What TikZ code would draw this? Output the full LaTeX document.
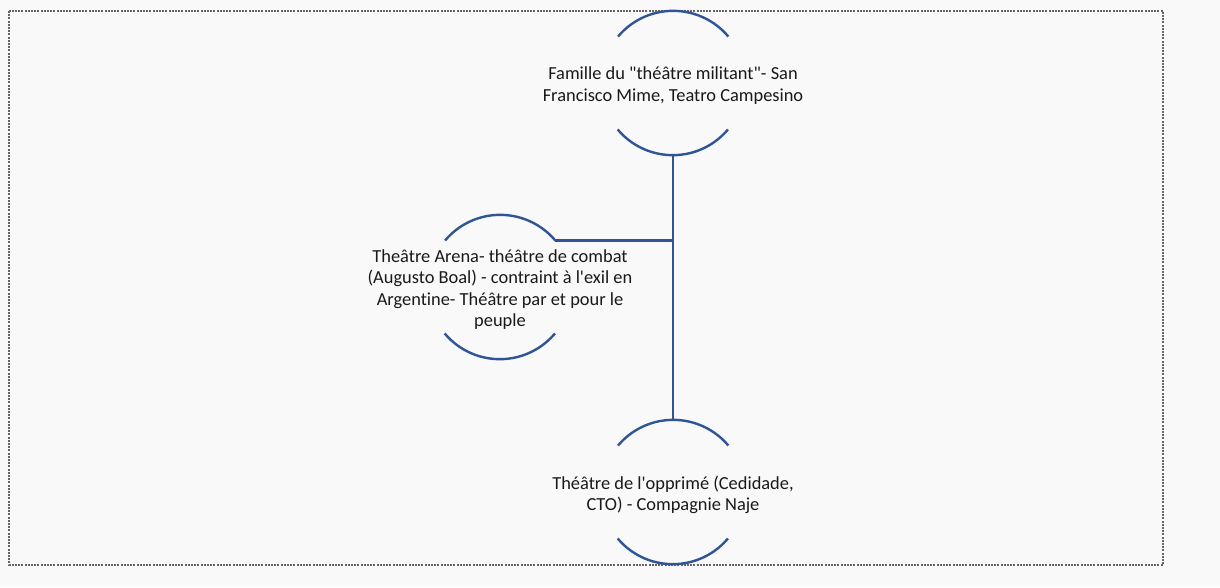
\documentclass[tikz,border=0pt]{standalone}
\usepackage{fontspec}
\setmainfont{Carlito}[Ligatures=NoCommon]
\definecolor{arcblue}{RGB}{47,85,151}
\definecolor{bggray}{RGB}{249,249,249}
\definecolor{framegray}{RGB}{100,100,100}
\tikzset{
  item/.style={circle, minimum size=108pt, inner sep=0pt},
  itemtext/.style={align=center, text=black!90, yshift=-2pt, font=\fontsize{13.8}{16.2}\selectfont},
  halfarc/.style={draw=arcblue, line width=1.8pt},
  link/.style={draw=arcblue, line width=1.8pt},
}
\begin{document}
\begin{tikzpicture}[x=0.75pt, y=0.75pt]
        % Background and frame
        \fill[bggray] (0,0) rectangle (1220,-587);
        \useasboundingbox (0,0) rectangle (1220,-587);
        \draw[framegray, line width=1.2pt, dash pattern=on 1.5pt off 0.9pt] (9,-11) rectangle (1163,-565);

        % Items
        \node[item, label={[itemtext]center:{Famille du \textquotedbl théâtre militant\textquotedbl- San\\Francisco Mime, Teatro Campesino}}] (militant) at (673,-83) {};
        \node[item, label={[itemtext]center:{Theâtre Arena- théâtre de combat\\(Augusto Boal) - contraint à l\textquotesingle exil en\\Argentine- Théâtre par et pour le\\peuple}}] (arena) at (500,-287) {};
        \node[item, label={[itemtext]center:{Théâtre de l\textquotesingle opprimé (Cedidade,\\CTO) - Compagnie Naje}}] (opprime) at (673,-492) {};

        % Arcs
        \foreach \n in {militant, arena, opprime} {
            \draw[halfarc] (\n.40) arc[start angle=40, end angle=140, radius=54pt];
            \draw[halfarc] (\n.220) arc[start angle=220, end angle=320, radius=54pt];
        }

        % Connectors
        \coordinate (junction) at (militant.south |- arena.40);
        \draw[link] (militant.south) -- (opprime.north);
        \draw[link] (arena.40) -- (junction);
\end{tikzpicture}
\end{document}
